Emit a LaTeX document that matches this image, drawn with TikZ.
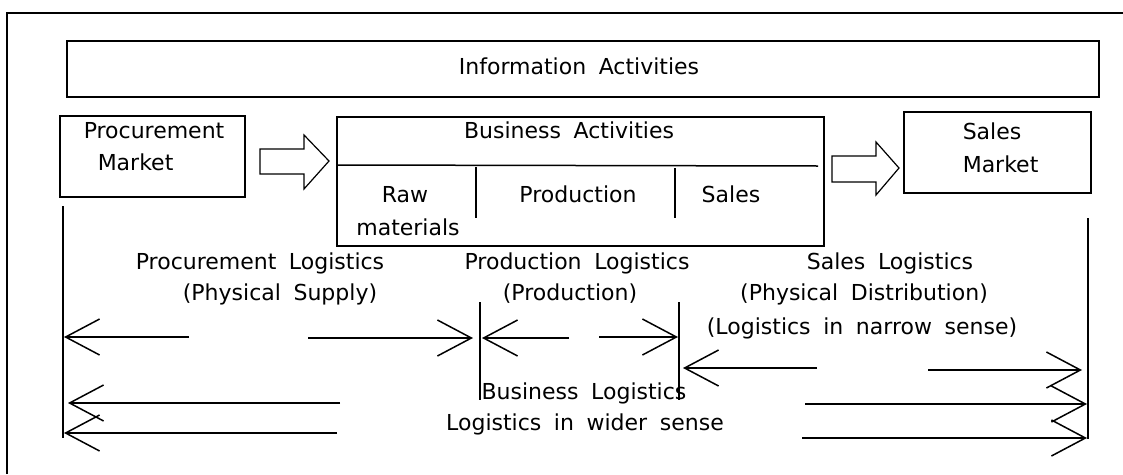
\documentclass[tikz,border=0pt]{standalone}
\usepackage{fontspec}
\setmainfont{DejaVu Sans}[WordSpace=1.8]
\usetikzlibrary{arrows.meta}

\tikzset{
  box/.style={draw, inner sep=0pt},
  txt/.style={inner sep=0pt, anchor=base},
  txtl/.style={inner sep=0pt, anchor=base west},
  bar/.style={line width=1.5pt},
  larrow/.style={-{Straight Barb[length=34pt,width=36pt]}},
  hollow/.style={draw, fill=white, line width=1.2pt}
}

\begin{document}
\begin{tikzpicture}[x=1pt, y=-1pt, line width=1.5pt, every node/.style={font=\fontsize{22}{26}\selectfont}]
\useasboundingbox (0,0) rectangle (1123,474);

\draw (7,474) -- (7,13) -- (1123,13);

\node[box, minimum width=1032pt, minimum height=56pt] (info) at (583,69) {};
\node[txt] (infoT) at (579,74) {Information Activities};

\node[box, minimum width=185pt, minimum height=81pt] (pm) at (152.5,156.5) {};
\node[txtl] (pmA) at (83,138) {Procurement};
\node[txtl] (pmB) at (97,170) {Market};

\draw[hollow] (260,149) -- (304,149) -- (304,135) -- (329,161) -- (304,189) -- (304,174) -- (260,174) -- cycle;

\node[box, minimum width=487pt, minimum height=129pt] (ba) at (580.5,181.5) {};
\node[txt] (baT) at (569,138) {Business Activities};
\coordinate (d0) at (337,165);
\coordinate (d1) at (818,166);
\draw (d0) -- (d1);
\coordinate (s1t) at (476,167);
\coordinate (s1b) at (476,218);
\coordinate (s2t) at (675,168);
\coordinate (s2b) at (675,218);
\draw (s1t) -- (s1b);
\draw (s2t) -- (s2b);
\node[txt] (raw) at (405,202) {Raw};
\node[txt] (mat) at (408,235) {materials};
\node[txt] (prod) at (578,202) {Production};
\node[txt] (sal) at (731,202) {Sales};

\draw[hollow] (832,156) -- (876,156) -- (876,142) -- (899,168) -- (876,195) -- (876,182) -- (832,182) -- cycle;

\node[box, minimum width=187pt, minimum height=81pt] (sm) at (997.5,152.5) {};
\node[txtl] (smA) at (962,139) {Sales};
\node[txtl] (smB) at (962,172) {Market};

\coordinate (v1t) at (63,206);
\coordinate (v1b) at (63,438);
\coordinate (v2t) at (480,302);
\coordinate (v2b) at (480,400);
\coordinate (v3t) at (679,302);
\coordinate (v3b) at (679,400);
\coordinate (v4t) at (1088,218);
\coordinate (v4b) at (1088,439);
\draw[bar] (v1t) -- (v1b);
\draw[bar] (v2t) -- (v2b);
\draw[bar] (v3t) -- (v3b);
\draw[bar] (v4t) -- (v4b);

\node[txt] (plA) at (260,269) {Procurement Logistics};
\node[txt] (plB) at (280,300) {(Physical Supply)};
\node[txt] (prA) at (577,269) {Production Logistics};
\node[txt] (prB) at (570,300) {(Production)};
\node[txt] (slA) at (890,269) {Sales Logistics};
\node[txt] (slB) at (864,300) {(Physical Distribution)};
\node[txt] (slC) at (862,334) {(Logistics in narrow sense)};
\node[txt] (blA) at (584,399) {Business Logistics};
\node[txt] (blB) at (585,430) {Logistics in wider sense};

\coordinate (pl1) at (189,337);
\coordinate (pl1e) at (64,337);
\coordinate (pl2) at (308,338);
\coordinate (pl2e) at (473,338);
\draw[larrow] (pl1) -- (pl1e);
\draw[larrow] (pl2) -- (pl2e);

\coordinate (pr1) at (569,338);
\coordinate (pr1e) at (482,338);
\coordinate (pr2) at (599,337);
\coordinate (pr2e) at (678,337);
\draw[larrow] (pr1) -- (pr1e);
\draw[larrow] (pr2) -- (pr2e);

\coordinate (sl1) at (817,368);
\coordinate (sl1e) at (683,368);
\coordinate (sl2) at (928,370);
\coordinate (sl2e) at (1082,370);
\draw[larrow] (sl1) -- (sl1e);
\draw[larrow] (sl2) -- (sl2e);

\coordinate (bl1) at (340,403);
\coordinate (bl1e) at (68,403);
\coordinate (bl2) at (337,433);
\coordinate (bl2e) at (64,433);
\coordinate (bl3) at (805,404);
\coordinate (bl3e) at (1087,404);
\coordinate (bl4) at (802,438);
\coordinate (bl4e) at (1087,438);
\draw[larrow] (bl1) -- (bl1e);
\draw[larrow] (bl2) -- (bl2e);
\draw[larrow] (bl3) -- (bl3e);
\draw[larrow] (bl4) -- (bl4e);
\end{tikzpicture}
\end{document}
